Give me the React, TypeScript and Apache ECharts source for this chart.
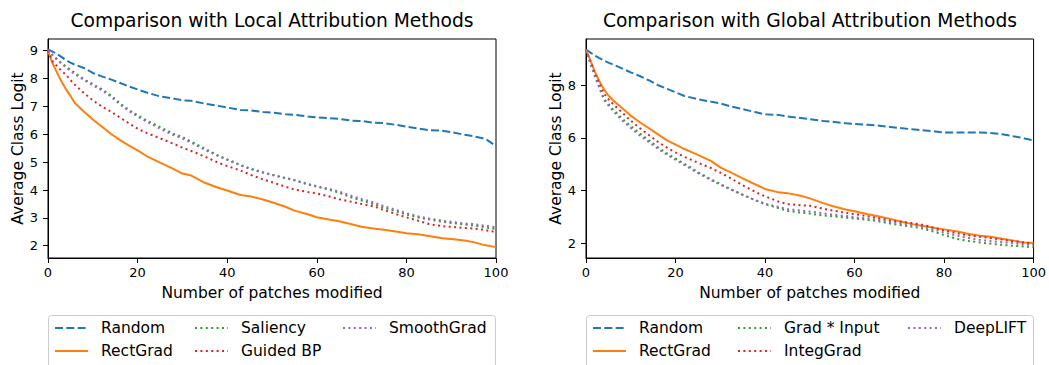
import React, { useEffect, useRef } from "react";
import * as echarts from "echarts";

const X = [0, 1, 2, 3, 4, 5, 6, 8, 10, 12, 14, 16, 18, 20, 22, 25, 28, 30, 32, 35, 38, 40, 43, 45, 48, 50, 53, 55, 58, 60, 63, 65, 68, 70, 73, 75, 78, 80, 83, 85, 88, 90, 93, 95, 97, 98, 100];

// Local attribution plot
const localRandom = [9.05, 8.97, 8.88, 8.78, 8.66, 8.57, 8.5, 8.38, 8.2, 8.08, 7.97, 7.85, 7.72, 7.61, 7.5, 7.36, 7.28, 7.22, 7.2, 7.1, 7.02, 6.96, 6.87, 6.86, 6.8, 6.78, 6.72, 6.7, 6.64, 6.61, 6.58, 6.55, 6.49, 6.48, 6.41, 6.4, 6.33, 6.27, 6.2, 6.15, 6.13, 6.08, 5.98, 5.93, 5.86, 5.8, 5.58];
const localRectGrad = [9.0, 8.55, 8.22, 7.9, 7.62, 7.38, 7.12, 6.82, 6.53, 6.28, 6.02, 5.8, 5.6, 5.42, 5.22, 4.98, 4.76, 4.59, 4.52, 4.26, 4.08, 3.98, 3.82, 3.78, 3.66, 3.56, 3.4, 3.26, 3.13, 3.02, 2.93, 2.88, 2.76, 2.68, 2.61, 2.57, 2.5, 2.45, 2.4, 2.35, 2.27, 2.24, 2.19, 2.13, 2.04, 2.01, 1.95];
const localSaliency = [9.02, 8.85, 8.7, 8.56, 8.44, 8.32, 8.2, 7.98, 7.8, 7.62, 7.4, 7.12, 6.88, 6.68, 6.5, 6.26, 6.02, 5.9, 5.74, 5.48, 5.24, 5.1, 4.9, 4.78, 4.64, 4.55, 4.43, 4.35, 4.2, 4.12, 4.0, 3.9, 3.72, 3.62, 3.48, 3.36, 3.22, 3.12, 3.0, 2.95, 2.86, 2.82, 2.76, 2.73, 2.68, 2.65, 2.6];
const localGuidedBP = [9.0, 8.62, 8.45, 8.28, 8.14, 7.95, 7.78, 7.48, 7.22, 7.0, 6.82, 6.61, 6.4, 6.2, 6.05, 5.86, 5.66, 5.52, 5.4, 5.2, 4.98, 4.86, 4.7, 4.56, 4.38, 4.28, 4.12, 4.02, 3.93, 3.88, 3.76, 3.67, 3.57, 3.5, 3.4, 3.28, 3.12, 3.02, 2.88, 2.78, 2.7, 2.68, 2.64, 2.62, 2.58, 2.55, 2.49];
const localSmoothGrad = [9.02, 8.84, 8.68, 8.53, 8.4, 8.28, 8.16, 7.95, 7.76, 7.58, 7.36, 7.08, 6.84, 6.64, 6.46, 6.2, 5.97, 5.85, 5.7, 5.44, 5.22, 5.08, 4.88, 4.76, 4.62, 4.54, 4.43, 4.36, 4.22, 4.14, 4.03, 3.94, 3.78, 3.68, 3.54, 3.42, 3.27, 3.17, 3.04, 2.98, 2.9, 2.86, 2.8, 2.78, 2.73, 2.71, 2.66];

// Global attribution plot
const globalRandom = [9.37, 9.25, 9.14, 9.04, 8.95, 8.87, 8.8, 8.65, 8.5, 8.36, 8.2, 8.02, 7.88, 7.74, 7.6, 7.48, 7.38, 7.32, 7.22, 7.1, 6.98, 6.9, 6.88, 6.82, 6.76, 6.72, 6.65, 6.62, 6.56, 6.53, 6.5, 6.48, 6.42, 6.38, 6.33, 6.3, 6.25, 6.21, 6.21, 6.21, 6.21, 6.2, 6.14, 6.08, 6.02, 5.98, 5.91];
const globalRectGrad = [9.37, 8.95, 8.52, 8.16, 7.86, 7.62, 7.45, 7.15, 6.85, 6.6, 6.38, 6.15, 5.92, 5.75, 5.58, 5.36, 5.12, 4.88, 4.72, 4.46, 4.22, 4.06, 3.93, 3.9, 3.8, 3.7, 3.52, 3.41, 3.28, 3.21, 3.1, 3.03, 2.92, 2.83, 2.72, 2.66, 2.57, 2.52, 2.44, 2.36, 2.28, 2.25, 2.16, 2.11, 2.04, 2.02, 2.0];
const globalGradInput = [9.37, 8.85, 8.36, 7.95, 7.5, 7.3, 7.1, 6.75, 6.45, 6.18, 5.92, 5.66, 5.42, 5.22, 5.02, 4.7, 4.42, 4.25, 4.08, 3.84, 3.62, 3.48, 3.33, 3.22, 3.16, 3.12, 3.05, 3.02, 2.97, 2.93, 2.88, 2.84, 2.74, 2.69, 2.62, 2.56, 2.42, 2.3, 2.15, 2.09, 2.02, 1.98, 1.93, 1.9, 1.88, 1.87, 1.84];
const globalIntegGrad = [9.37, 8.9, 8.45, 8.07, 7.7, 7.48, 7.3, 6.98, 6.66, 6.38, 6.12, 5.86, 5.64, 5.45, 5.28, 5.06, 4.85, 4.68, 4.5, 4.2, 3.93, 3.78, 3.58, 3.48, 3.44, 3.42, 3.31, 3.24, 3.15, 3.1, 3.02, 2.96, 2.86, 2.82, 2.75, 2.7, 2.57, 2.48, 2.37, 2.3, 2.24, 2.2, 2.13, 2.08, 2.04, 2.02, 1.98];
const globalDeepLIFT = [9.37, 8.83, 8.33, 7.9, 7.45, 7.24, 7.04, 6.68, 6.38, 6.1, 5.85, 5.6, 5.37, 5.17, 4.97, 4.66, 4.39, 4.22, 4.06, 3.83, 3.62, 3.5, 3.37, 3.29, 3.24, 3.2, 3.13, 3.09, 3.03, 2.98, 2.93, 2.89, 2.8, 2.75, 2.68, 2.63, 2.5, 2.4, 2.28, 2.2, 2.12, 2.08, 2.03, 2.0, 1.97, 1.95, 1.92];

const xTicks = [0, 20, 40, 60, 80, 100];
const localYTicks = [2, 3, 4, 5, 6, 7, 8, 9];
const globalYTicks = [2, 4, 6, 8];

const titles = ["Comparison with Local Attribution Methods", "Comparison with Global Attribution Methods"];
const xName = "Number of patches modified";
const yName = "Average Class Logit";

const FONT = "DejaVu Sans";
const C = { blue: "#1f77b4", orange: "#ff7f0e", green: "#2ca02c", red: "#d62728", purple: "#9467bd" };
const DASH = [8, 3.3];
const DOT = [2, 3.4];

function mk(name: string, vals: number[], color: string, type: any, idx: number) {
  return {
    type: "line",
    name,
    xAxisIndex: idx,
    yAxisIndex: idx,
    data: X.map((x, i) => [x, vals[i]]),
    showSymbol: false,
    symbol: "none",
    smooth: false,
    lineStyle: { color, width: 2, type, cap: "butt" },
    itemStyle: { color },
    emphasis: { disabled: true },
  };
}

const G = [
  { left: 48, top: 39, width: 448, height: 219 },
  { left: 586, top: 39, width: 448, height: 219 },
];

function xAxis(idx: number) {
  return {
    type: "value",
    gridIndex: idx,
    min: 0,
    max: 100,
    interval: 20,
    name: xName,
    nameLocation: "middle",
    nameGap: 27,
    nameTextStyle: { fontFamily: FONT, fontSize: 15.5, color: "#000" },
    axisLine: { show: true, lineStyle: { color: "#000", width: 1 } },
    axisTick: { show: true, length: 5, lineStyle: { color: "#000" }, customValues: xTicks },
    axisLabel: { fontFamily: FONT, fontSize: 13, color: "#000", margin: 8, customValues: xTicks },
    splitLine: { show: false },
  };
}

function yAxis(idx: number, min: number, max: number, ticks: number[]) {
  return {
    type: "value",
    gridIndex: idx,
    min,
    max,
    name: yName,
    nameLocation: "middle",
    nameGap: 22,
    nameRotate: 90,
    nameTextStyle: { fontFamily: FONT, fontSize: 15.5, color: "#000" },
    axisLine: { show: true, lineStyle: { color: "#000", width: 1 } },
    axisTick: { show: true, length: 5, lineStyle: { color: "#000" }, customValues: ticks },
    axisLabel: { fontFamily: FONT, fontSize: 13, color: "#000", margin: 10, customValues: ticks },
    splitLine: { show: false },
  };
}

function legend(names: string[], left: number) {
  return {
    orient: "vertical",
    left,
    top: 320,
    padding: 0,
    itemWidth: 33,
    itemHeight: 14,
    itemGap: 7,
    data: names,
    selectedMode: false,
    itemStyle: { opacity: 0 },
    textStyle: { fontFamily: FONT, fontSize: 15.5, color: "#000", padding: [0, 0, 0, 8] },
  };
}

export default function App() {
  const ref = useRef<HTMLDivElement>(null);
  useEffect(() => {
    if (!ref.current) return;
    const chart = echarts.init(ref.current, null, { renderer: "svg" });
    chart.setOption({
      animation: false,
      backgroundColor: "#fff",
      grid: G.map((g) => ({ ...g, show: true, borderColor: "#000", borderWidth: 1, backgroundColor: "transparent" })),
      xAxis: [xAxis(0), xAxis(1)],
      yAxis: [yAxis(0, 1.56, 9.42, localYTicks), yAxis(1, 1.43, 9.77, globalYTicks)],
      legend: [
        legend(["Random", "RectGrad"], 54),
        legend(["Saliency", "Guided BP"], 194),
        legend(["SmoothGrad"], 342),
        legend(["Random", "RectGrad"], 592),
        legend(["Grad * Input", "IntegGrad"], 737),
        legend(["DeepLIFT"], 907),
      ],
      graphic: [
        { type: "text", x: 272, y: 20, style: { text: titles[0], font: `18.7px "${FONT}"`, fill: "#000", textAlign: "center", textVerticalAlign: "middle" } },
        { type: "text", x: 810, y: 20, style: { text: titles[1], font: `18.7px "${FONT}"`, fill: "#000", textAlign: "center", textVerticalAlign: "middle" } },
        { type: "rect", shape: { x: 48.5, y: 315.5, width: 447, height: 60, r: 3 }, style: { fill: "#fff", stroke: "#cccccc", lineWidth: 1 }, z: -1 },
        { type: "rect", shape: { x: 586.5, y: 315.5, width: 447, height: 60, r: 3 }, style: { fill: "#fff", stroke: "#cccccc", lineWidth: 1 }, z: -1 },
      ],
      series: [
        mk("Random", localRandom, C.blue, DASH, 0),
        mk("RectGrad", localRectGrad, C.orange, "solid", 0),
        mk("Saliency", localSaliency, C.green, DOT, 0),
        mk("Guided BP", localGuidedBP, C.red, DOT, 0),
        mk("SmoothGrad", localSmoothGrad, C.purple, DOT, 0),
        mk("Random", globalRandom, C.blue, DASH, 1),
        mk("RectGrad", globalRectGrad, C.orange, "solid", 1),
        mk("Grad * Input", globalGradInput, C.green, DOT, 1),
        mk("IntegGrad", globalIntegGrad, C.red, DOT, 1),
        mk("DeepLIFT", globalDeepLIFT, C.purple, DOT, 1),
      ],
    });
    return () => chart.dispose();
  }, []);
  return <div ref={ref} style={{ position: "absolute", left: 0, top: 0, width: 1049, height: 365 }} />;
}
